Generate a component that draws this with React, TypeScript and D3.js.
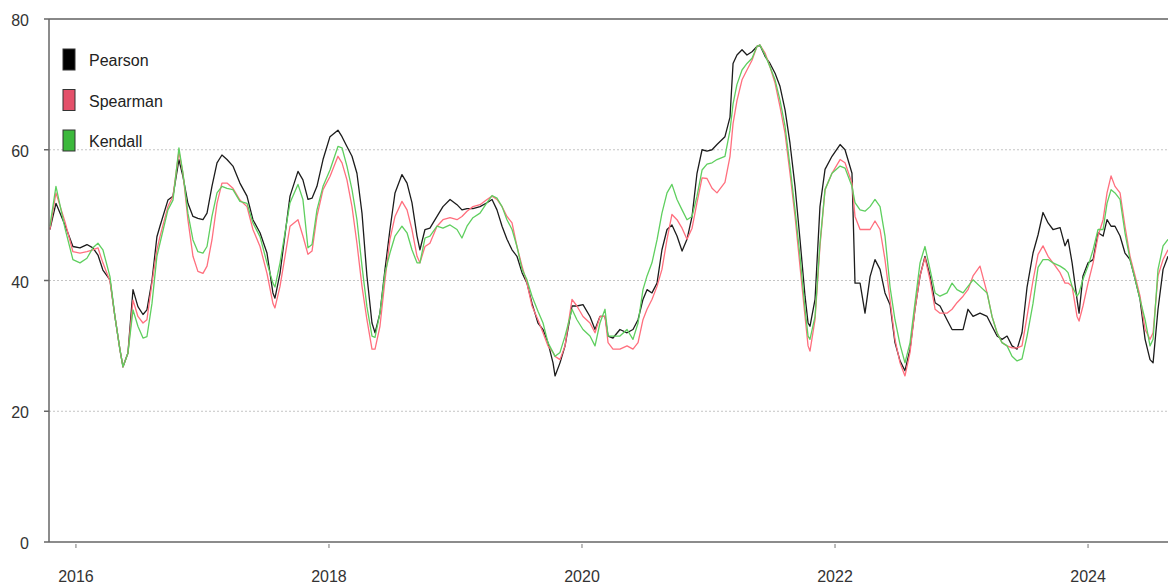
import * as d3 from "d3";

// sample dates as decimal years
const years = [
  2015.794, 2015.842, 2015.913, 2015.976, 2016.032, 2016.087, 2016.134, 2016.174, 2016.213, 2016.269,
  2016.308, 2016.348, 2016.372, 2016.411, 2016.451, 2016.49, 2016.53, 2016.561, 2016.601, 2016.64,
  2016.664, 2016.727, 2016.767, 2016.814, 2016.846, 2016.885, 2016.925, 2016.964, 2017.004, 2017.036,
  2017.075, 2017.115, 2017.154, 2017.194, 2017.241, 2017.296, 2017.352, 2017.399, 2017.455, 2017.51,
  2017.557, 2017.573, 2017.613, 2017.692, 2017.755, 2017.794, 2017.834, 2017.866, 2017.905, 2017.953,
  2018.008, 2018.071, 2018.103, 2018.142, 2018.182, 2018.221, 2018.261, 2018.3, 2018.34, 2018.364,
  2018.403, 2018.443, 2018.482, 2018.522, 2018.577, 2018.617, 2018.656, 2018.696, 2018.719, 2018.759,
  2018.798, 2018.854, 2018.901, 2018.957, 2019.012, 2019.051, 2019.091, 2019.138, 2019.194, 2019.249,
  2019.289, 2019.328, 2019.368, 2019.407, 2019.447, 2019.486, 2019.526, 2019.565, 2019.605, 2019.652,
  2019.692, 2019.731, 2019.771, 2019.787, 2019.826, 2019.866, 2019.921, 2019.96, 2020.008, 2020.063,
  2020.103, 2020.142, 2020.182, 2020.206, 2020.245, 2020.3, 2020.356, 2020.403, 2020.443, 2020.482,
  2020.514, 2020.553, 2020.593, 2020.632, 2020.672, 2020.711, 2020.751, 2020.791, 2020.83, 2020.87,
  2020.909, 2020.949, 2020.988, 2021.028, 2021.067, 2021.13, 2021.17, 2021.194, 2021.225, 2021.265,
  2021.304, 2021.344, 2021.383, 2021.407, 2021.447, 2021.486, 2021.526, 2021.565, 2021.605, 2021.644,
  2021.684, 2021.723, 2021.763, 2021.787, 2021.802, 2021.842, 2021.881, 2021.921, 2021.976, 2022.04,
  2022.079, 2022.134, 2022.158, 2022.198, 2022.237, 2022.277, 2022.316, 2022.356, 2022.395, 2022.435,
  2022.474, 2022.514, 2022.553, 2022.593, 2022.632, 2022.672, 2022.711, 2022.751, 2022.791, 2022.83,
  2022.885, 2022.925, 2022.964, 2023.012, 2023.051, 2023.091, 2023.146, 2023.202, 2023.241, 2023.281,
  2023.32, 2023.36, 2023.399, 2023.439, 2023.478, 2023.518, 2023.565, 2023.605, 2023.644, 2023.684,
  2023.723, 2023.779, 2023.818, 2023.842, 2023.874, 2023.913, 2023.929, 2023.96, 2024.0, 2024.04,
  2024.079, 2024.119, 2024.15, 2024.182, 2024.213, 2024.253, 2024.292, 2024.332, 2024.372, 2024.411,
  2024.451, 2024.49, 2024.514, 2024.553, 2024.593, 2024.632,
];

const pearson = [
  47.8, 51.8, 48.5, 45.2, 45.0, 45.5, 45.0, 43.9, 41.6, 40.1,
  34.5, 29.4, 26.8, 28.9, 38.6, 36.0, 34.8, 35.5, 40.0, 46.7,
  48.3, 52.3, 52.9, 58.5, 55.9, 51.8, 49.8, 49.5, 49.3, 50.3,
  54.4, 58.0, 59.2, 58.5, 57.5, 54.9, 52.9, 49.3, 47.3, 44.2,
  38.1, 37.3, 41.1, 52.9, 56.7, 55.4, 52.4, 52.6, 54.4, 58.5,
  62.0, 63.0, 62.0, 60.5, 59.0, 56.4, 50.3, 40.7, 33.5, 32.0,
  35.0, 41.7, 47.8, 53.4, 56.2, 54.9, 51.9, 46.8, 44.7, 47.8,
  48.0, 49.8, 51.3, 52.4, 51.6, 50.8, 51.0, 51.0, 51.3, 51.9,
  52.4, 50.8, 48.3, 46.3, 44.7, 43.7, 41.2, 39.6, 36.5, 33.5,
  32.5, 30.5, 27.4, 25.4, 27.4, 30.0, 36.1, 36.1, 36.3, 34.5,
  32.5, 34.5, 34.5, 31.5, 31.2, 32.5, 32.0, 32.5, 34.0, 37.1,
  38.6, 38.1, 39.6, 44.7, 47.8, 48.5, 46.8, 44.5, 46.3, 49.8,
  56.4, 60.0, 59.8, 60.0, 60.8, 62.0, 65.0, 73.2, 74.5, 75.3,
  74.5, 75.0, 75.8, 76.0, 74.3, 73.2, 71.7, 69.7, 66.1, 61.0,
  54.4, 46.3, 37.6, 33.5, 33.0, 37.1, 51.3, 57.0, 59.0, 60.8,
  60.0, 56.4, 39.6, 39.6, 35.0, 40.6, 43.2, 41.7, 38.1, 36.3,
  30.5, 27.7, 26.2, 29.5, 35.6, 40.7, 43.7, 40.7, 36.6, 36.1,
  34.0, 32.5, 32.5, 32.5, 35.6, 34.5, 35.0, 34.5, 33.0, 31.5,
  31.0, 31.5, 30.0, 29.5, 32.0, 39.0, 44.2, 47.0, 50.4, 48.8,
  47.8, 48.1, 45.3, 46.3, 42.7, 37.1, 35.0, 40.7, 42.7, 43.2,
  47.3, 46.8, 49.3, 48.3, 48.3, 46.8, 44.2, 43.2, 40.2, 37.1,
  31.0, 27.9, 27.4, 35.6, 41.7, 43.7,
];

const spearman = [
  47.8, 53.4, 49.0, 44.4, 44.2, 44.4, 44.7, 45.0, 42.7, 39.9,
  34.5, 29.4, 26.8, 28.9, 37.0, 34.5, 33.5, 34.0, 39.6, 44.7,
  46.7, 51.3, 52.9, 59.7, 56.4, 49.3, 43.7, 41.4, 41.1, 42.2,
  46.2, 51.8, 54.9, 54.9, 54.1, 52.3, 51.3, 47.8, 45.2, 41.1,
  36.5, 35.8, 39.1, 48.3, 49.3, 46.8, 44.0, 44.5, 49.8, 53.9,
  55.9, 59.0, 58.0, 55.4, 51.3, 45.7, 39.1, 34.0, 29.5, 29.5,
  33.0, 40.1, 46.3, 49.8, 52.1, 50.8, 47.8, 43.7, 42.7, 45.2,
  45.7, 48.3, 49.3, 49.6, 49.3, 49.8, 50.6, 51.3, 51.6, 52.4,
  52.9, 52.4, 51.3, 49.8, 48.8, 45.2, 42.2, 39.6, 36.1, 34.0,
  32.0, 30.0, 29.0, 28.4, 27.9, 30.0, 37.1, 36.1, 34.5, 33.5,
  32.0, 34.5, 34.5, 30.5, 29.5, 29.5, 30.0, 29.5, 30.5, 34.0,
  35.6, 37.1, 39.1, 41.7, 46.3, 50.1, 49.3, 48.0, 46.3, 48.0,
  51.9, 55.7, 55.6, 54.1, 53.4, 55.0, 59.0, 64.0, 67.5, 70.7,
  72.2, 73.7, 75.8, 76.0, 74.8, 72.7, 70.2, 66.6, 62.5, 56.4,
  49.8, 42.2, 34.5, 30.0, 29.2, 34.0, 45.2, 53.9, 56.4, 58.5,
  58.0, 54.9, 49.8, 47.8, 47.8, 47.8, 49.1, 47.8, 43.2, 37.0,
  31.0, 27.4, 25.4, 29.0, 35.6, 40.7, 43.5, 40.1, 35.6, 35.0,
  35.0, 35.6, 36.6, 37.6, 38.6, 40.7, 42.2, 38.1, 34.5, 32.0,
  30.5, 30.0, 29.7, 29.7, 30.0, 34.5, 40.0, 44.0, 45.3, 43.7,
  42.7, 41.2, 39.6, 39.6, 39.1, 34.5, 33.8, 36.1, 39.6, 42.7,
  46.8, 49.3, 53.4, 56.0, 54.4, 53.4, 48.3, 43.7, 40.7, 37.6,
  32.5, 31.0, 32.0, 40.7, 43.2, 44.7,
];

const kendall = [
  48.3, 54.4, 48.0, 43.2, 42.7, 43.4, 45.0, 45.7, 44.7, 40.6,
  34.5, 29.4, 26.8, 28.9, 35.5, 33.0, 31.2, 31.4, 36.5, 43.7,
  45.7, 50.8, 52.3, 60.3, 56.4, 50.3, 46.2, 44.4, 44.2, 45.2,
  49.8, 53.4, 54.4, 54.1, 53.9, 52.1, 51.8, 48.8, 46.7, 42.7,
  39.6, 39.0, 42.7, 51.9, 54.7, 52.4, 45.0, 45.5, 50.8, 54.4,
  56.9, 60.5, 60.3, 57.5, 53.9, 49.3, 42.2, 36.0, 31.5, 31.3,
  35.0, 41.2, 44.2, 46.8, 48.3, 47.3, 44.7, 42.7, 42.7, 46.5,
  46.8, 48.3, 48.0, 48.5, 47.8, 46.5, 48.3, 49.6, 50.3, 51.9,
  53.0, 52.6, 51.3, 49.3, 47.8, 45.2, 41.7, 40.1, 37.6, 35.3,
  33.5, 30.5, 29.0, 28.4, 29.0, 31.5, 35.6, 34.0, 32.5, 31.5,
  30.0, 33.5, 35.6, 31.5, 31.5, 31.5, 32.5, 31.0, 33.5, 38.6,
  40.7, 42.7, 46.2, 50.3, 53.4, 54.7, 52.4, 50.8, 49.3, 49.8,
  52.9, 56.9, 57.8, 58.0, 58.5, 59.0, 63.0, 67.0, 70.0, 72.2,
  73.2, 74.0, 75.8, 76.0, 74.5, 72.7, 70.7, 67.6, 63.6, 57.5,
  50.8, 43.7, 35.6, 31.5, 31.0, 34.5, 45.7, 53.9, 56.4, 57.5,
  57.2, 54.4, 51.9, 50.8, 50.6, 51.3, 52.4, 51.3, 46.8, 39.0,
  34.0, 30.2, 27.4, 30.5, 36.6, 42.7, 45.2, 41.7, 38.1, 37.6,
  38.1, 39.6, 38.6, 38.1, 39.1, 40.1, 39.1, 38.1, 34.5, 32.0,
  30.5, 30.0, 28.4, 27.7, 28.0, 31.5, 36.5, 42.0, 43.2, 43.2,
  42.7, 42.2, 41.7, 41.2, 39.1, 37.6, 38.1, 40.2, 42.2, 44.7,
  47.8, 47.8, 51.8, 53.9, 53.4, 52.4, 47.3, 43.2, 40.2, 37.1,
  34.0, 30.0, 31.0, 41.7, 45.3, 46.3,
];

const seriesNames = ["Pearson", "Spearman", "Kendall"];
const seriesValues = [pearson, spearman, kendall];
const lineColors = ["#1c1c1c", "#ff6f7e", "#5fcf5f"];
const legendFills = ["#000000", "#e4506a", "#3cb83c"];

const yTicks = [0, 20, 40, 60, 80];
const gridTicks = [20, 40, 60];
const xTicks = [2016, 2018, 2020, 2022, 2024];

const W = 1168;
const H = 584;
const margin = { left: 49, top: 19, right: 0, bottom: 42 };
const font = "'Liberation Sans', Arial, sans-serif";

export default function App() {
  const x = d3
    .scaleLinear()
    .domain([2015.787, 2024.632])
    .range([margin.left, W - margin.right]);
  const y = d3
    .scaleLinear()
    .domain([0, 80])
    .range([H - margin.bottom, margin.top]);

  const line = d3
    .line<number>()
    .x((_, i) => x(years[i]))
    .y((d) => y(d));

  const x0 = margin.left;
  const x1 = W - margin.right;
  const yBottom = y(0);
  const yTop = y(80);

  return (
    <>
      <style>{"body{margin:0}"}</style>
      <svg width={W} height={H} style={{ display: "block", background: "#fff" }}>
        <defs>
          <clipPath id="plot">
            <rect x={x0} y={yTop} width={x1 - x0} height={yBottom - yTop} />
          </clipPath>
        </defs>

        {/* dotted gridlines */}
        {gridTicks.map((t) => (
          <line
            key={"g" + t}
            x1={x0}
            x2={x1}
            y1={y(t)}
            y2={y(t)}
            stroke="#c4c4c4"
            strokeWidth={1}
            strokeDasharray="2,2"
          />
        ))}

        {/* series */}
        <g clipPath="url(#plot)">
          {seriesValues.map((vals, i) => (
            <path
              key={seriesNames[i]}
              d={line(vals) ?? ""}
              fill="none"
              stroke={lineColors[i]}
              strokeWidth={1.3}
              strokeLinejoin="round"
            />
          ))}
        </g>

        {/* frame: top border, left and bottom axes */}
        <line x1={x0} x2={x1} y1={yTop} y2={yTop} stroke="#888" strokeWidth={2} />
        <line x1={x0} x2={x0} y1={yTop} y2={yBottom} stroke="#666" strokeWidth={1.5} />
        <line x1={x0} x2={x1} y1={yBottom} y2={yBottom} stroke="#666" strokeWidth={1.5} />

        {/* y axis ticks and labels */}
        {yTicks.map((t) => (
          <g key={"y" + t}>
            <line x1={x0 - 5} x2={x0} y1={y(t)} y2={y(t)} stroke="#666" strokeWidth={1.5} />
            <text
              x={29}
              y={y(t) + 3}
              textAnchor="end"
              dominantBaseline="middle"
              fontFamily={font}
              fontSize={16}
              fill="#333"
            >
              {t}
            </text>
          </g>
        ))}

        {/* x axis ticks and labels */}
        {xTicks.map((t) => (
          <g key={"x" + t}>
            <line x1={x(t)} x2={x(t)} y1={yBottom + 2} y2={yBottom + 6} stroke="#777" strokeWidth={1} />
            <text
              x={x(t)}
              y={582}
              textAnchor="middle"
              fontFamily={font}
              fontSize={16}
              fill="#333"
            >
              {t}
            </text>
          </g>
        ))}

        {/* legend */}
        {seriesNames.map((name, i) => (
          <g key={"l" + name} transform={`translate(63, ${49 + i * 40.5})`}>
            <rect x={0} y={0} width={12} height={21} fill={legendFills[i]} stroke="#333" strokeWidth={1} />
            <text x={26} y={13} dominantBaseline="middle" fontFamily={font} fontSize={16} fill="#222">
              {name}
            </text>
          </g>
        ))}
      </svg>
    </>
  );
}
